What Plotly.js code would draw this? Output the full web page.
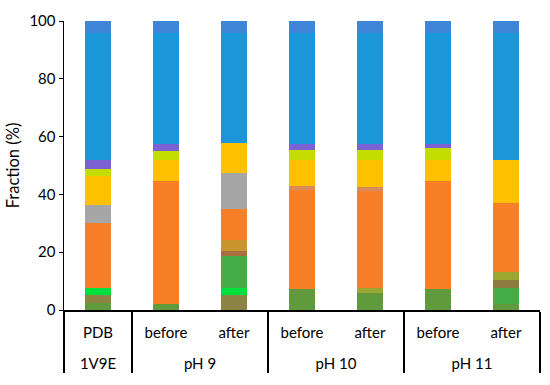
<!DOCTYPE html>
<html>
<head>
<meta charset="utf-8">
<script src="https://cdn.plot.ly/plotly-3.0.1.min.js"></script>
<style>html,body{margin:0;padding:0;background:#fff;}#chart{width:550px;height:385px;}</style>
</head>
<body>
<div id="chart"></div>
<script>
// Categories (outer group, inner label)
const groups = ['1V9E', 'pH 9', 'pH 9', 'pH 10', 'pH 10', 'pH 11', 'pH 11'];
const samples = ['PDB', 'before', 'after', 'before', 'after', 'before', 'after'];

// Stacked fractions (%), bottom to top
const oliveGreen   = [2.3, 2.0, 0,    7.3,  5.8,  7.3,  2.0];
const khaki        = [2.9, 0,   5.2,  0,    0,    0,    0];
const brightGreen  = [2.5, 0,   2.3,  0,    0,    0,    0];
const green        = [0,   0,   11.3, 0,    0,    0,    5.6];
const brownOlive   = [0,   0,   0,    0,    0,    0,    2.9];
const yellowOlive  = [0,   0,   0,    0,    1.8,  0,    2.5];
const sienna       = [0,   0,   1.6,  0,    0,    0,    0];
const goldenrod    = [0,   0,   3.8,  0,    0,    0,    0];
const orange       = [22.3, 42.7, 10.9, 34.2, 33.5, 37.4, 23.9];
const salmon       = [0,   0,   0,    1.4,  1.6,  0,    0];
const grey         = [6.5, 0,   12.2, 0,    0,    0,    0];
const gold         = [9.9, 7.1, 10.5, 8.9,  9.1,  7.1,  14.9];
const yellowGreen  = [2.3, 3.2, 0,    3.5,  3.6,  4.1,  0];
const purple       = [3.1, 2.3, 0,    2.0,  1.9,  1.4,  0];
const blue         = [44.2, 38.7, 38.2, 38.7, 38.7, 38.7, 44.2];
const topBlue      = [4.0, 4.0, 4.0,  4.0,  4.0,  4.0,  4.0];

const seriesList = [
  ['oliveGreen', oliveGreen, '#619a3c'],
  ['khaki', khaki, '#8b8444'],
  ['brightGreen', brightGreen, '#00e03c'],
  ['green', green, '#45ab45'],
  ['brownOlive', brownOlive, '#8c7a3e'],
  ['yellowOlive', yellowOlive, '#9aa832'],
  ['sienna', sienna, '#a8703e'],
  ['goldenrod', goldenrod, '#c9952c'],
  ['orange', orange, '#f67f27'],
  ['salmon', salmon, '#d88a5a'],
  ['grey', grey, '#a6a6a6'],
  ['gold', gold, '#ffc000'],
  ['yellowGreen', yellowGreen, '#c5dc00'],
  ['purple', purple, '#7a62d4'],
  ['blue', blue, '#1b96d8'],
  ['topBlue', topBlue, '#3f85d8']
];

// outer labels pushed down one line to open the gap between the two label rows
const outerLabels = groups.map(g => '<br>' + g);

const traces = seriesList.map(([name, vals, color]) => ({
  type: 'bar',
  name: name,
  x: [outerLabels, samples],
  y: vals,
  marker: {color: color, line: {width: 0}},
  hoverinfo: 'skip'
}));

const font = {family: 'Lato, "Liberation Sans", sans-serif', size: 15, color: '#000'};
const titleFont = {family: 'Lato, "Liberation Sans", sans-serif', size: 16.5, color: '#000'};

const layout = {
  width: 550, height: 385,
  margin: {l: 64, r: 10, t: 21, b: 75},
  barmode: 'stack',
  bargap: 0.62,
  showlegend: false,
  paper_bgcolor: '#fff',
  plot_bgcolor: '#fff',
  font: font,
  xaxis: {
    type: 'multicategory',
    showline: true, linecolor: '#000', linewidth: 1.5,
    ticks: '',
    showgrid: false,
    showdividers: true, dividercolor: '#000', dividerwidth: 1.5,
    ticklabelstandoff: 8,
    tickfont: font
  },
  yaxis: {
    range: [0, 100],
    tickvals: [0, 20, 40, 60, 80, 100],
    showline: true, linecolor: '#000', linewidth: 1.5,
    ticks: 'outside', ticklen: 4, tickcolor: '#000', tickwidth: 1,
    showgrid: false, zeroline: false,
    tickfont: font,
    title: {text: 'Fraction (%)', font: titleFont, standoff: 5}
  }
};

Plotly.newPlot('chart', traces, layout, {displayModeBar: false, staticPlot: true});
</script>
</body>
</html>
